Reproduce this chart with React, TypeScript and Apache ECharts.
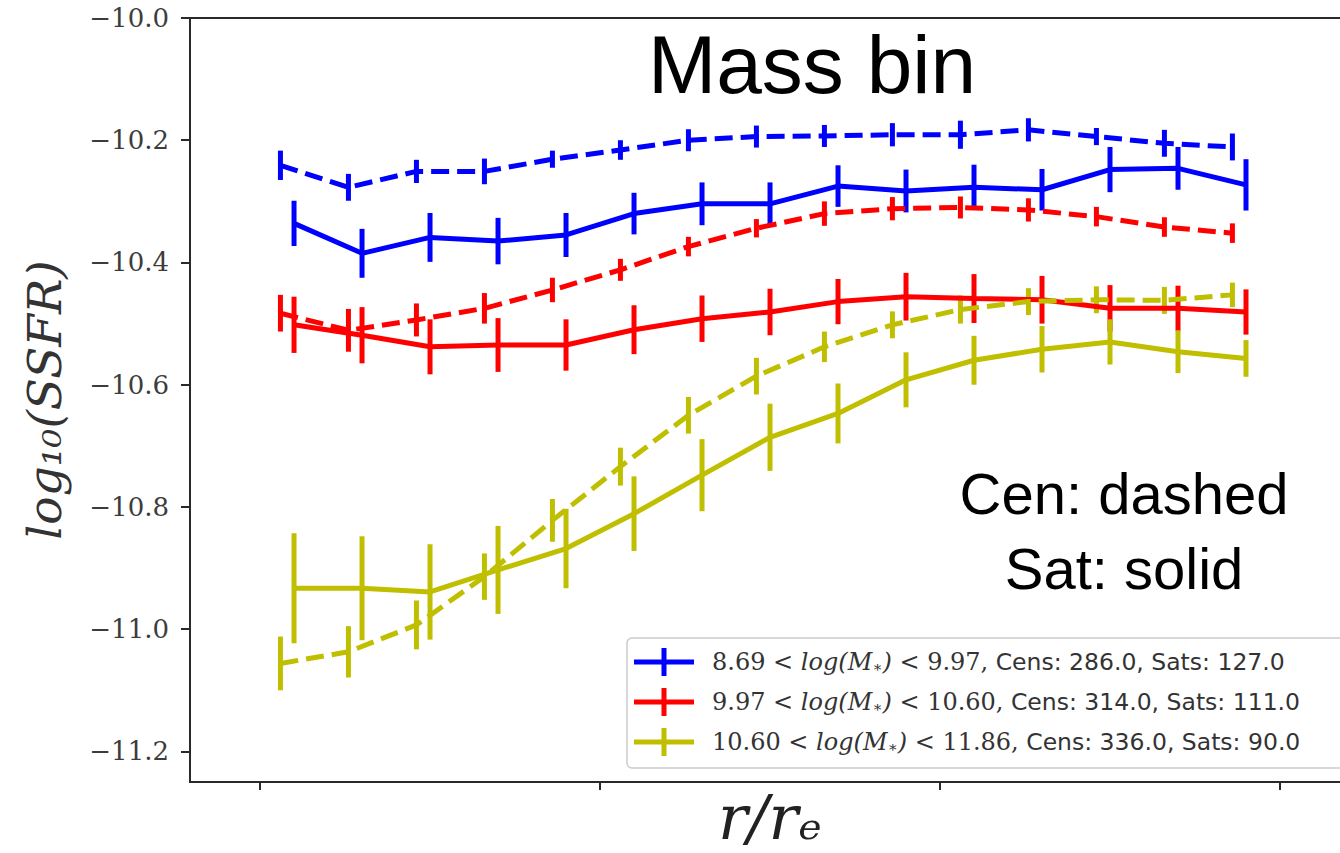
import React, { useEffect, useRef } from "react";
import * as echarts from "echarts";

// radial positions (r / r_e) of the bins
const xSat = [0.1, 0.3, 0.5, 0.7, 0.9, 1.1, 1.3, 1.5, 1.7, 1.9, 2.1, 2.3, 2.5, 2.7, 2.9];
const xCen = [0.06, 0.26, 0.46, 0.66, 0.86, 1.06, 1.26, 1.46, 1.66, 1.86, 2.06, 2.26, 2.46, 2.66, 2.86];

// log10(SSFR) values and errors
const blueCen = [-10.241, -10.277, -10.251, -10.251, -10.231, -10.216, -10.2, -10.194, -10.193, -10.191, -10.191, -10.183, -10.194, -10.205, -10.211];
const blueCenErr = [0.024, 0.022, 0.019, 0.021, 0.014, 0.016, 0.018, 0.018, 0.018, 0.019, 0.023, 0.019, 0.014, 0.022, 0.022];
const blueSat = [-10.336, -10.385, -10.359, -10.365, -10.355, -10.32, -10.304, -10.304, -10.275, -10.283, -10.277, -10.281, -10.248, -10.246, -10.273];
const blueSatErr = [0.037, 0.04, 0.04, 0.038, 0.036, 0.034, 0.035, 0.035, 0.034, 0.035, 0.037, 0.034, 0.037, 0.035, 0.042];

const redCen = [-10.483, -10.511, -10.494, -10.475, -10.445, -10.412, -10.374, -10.344, -10.32, -10.312, -10.31, -10.314, -10.325, -10.342, -10.352];
const redCenErr = [0.03, 0.035, 0.027, 0.025, 0.02, 0.018, 0.016, 0.015, 0.02, 0.019, 0.018, 0.019, 0.016, 0.016, 0.016];
const redSat = [-10.502, -10.519, -10.538, -10.535, -10.535, -10.51, -10.492, -10.481, -10.464, -10.456, -10.459, -10.461, -10.475, -10.475, -10.481];
const redSatErr = [0.046, 0.046, 0.045, 0.044, 0.042, 0.04, 0.038, 0.038, 0.037, 0.039, 0.04, 0.039, 0.038, 0.037, 0.037];

const oliveCen = [-11.056, -11.037, -10.993, -10.914, -10.822, -10.734, -10.65, -10.586, -10.538, -10.502, -10.477, -10.464, -10.461, -10.462, -10.453];
const oliveCenErr = [0.044, 0.042, 0.04, 0.038, 0.035, 0.031, 0.03, 0.03, 0.025, 0.022, 0.023, 0.022, 0.022, 0.022, 0.02];
const oliveSat = [-10.933, -10.933, -10.939, -10.903, -10.868, -10.811, -10.748, -10.686, -10.647, -10.592, -10.56, -10.542, -10.53, -10.546, -10.557];
const oliveSatErr = [0.09, 0.085, 0.078, 0.072, 0.065, 0.061, 0.059, 0.055, 0.049, 0.045, 0.04, 0.038, 0.037, 0.035, 0.03];

const yTicks = [-11.2, -11.0, -10.8, -10.6, -10.4, -10.2, -10.0];
const xTicks = [0, 1, 2, 3];

const massLow = ["8.69", "9.97", "10.60"];
const massHigh = ["9.97", "10.60", "11.86"];
const cens = ["286.0", "314.0", "336.0"];
const sats = ["127.0", "111.0", "90.0"];
const colors = ["#0000ff", "#ff0000", "#bfbf00"];

const legendNames = massLow.map(
  (lo, i) => `${lo} < log(M*) < ${massHigh[i]}, Cens: ${cens[i]}, Sats: ${sats[i]}`
);

const groups = [
  { cen: blueCen, cenErr: blueCenErr, sat: blueSat, satErr: blueSatErr },
  { cen: redCen, cenErr: redCenErr, sat: redSat, satErr: redSatErr },
  { cen: oliveCen, cenErr: oliveCenErr, sat: oliveSat, satErr: oliveSatErr },
];

const LW = 5;

function errSeries(name: string, xs: number[], ys: number[], es: number[], color: string) {
  return {
    name,
    type: "custom",
    data: xs.map((x, i) => [x, ys[i], es[i]]),
    encode: { x: 0, y: 1 },
    z: 3,
    renderItem: (params: any, api: any) => {
      const x = api.value(0);
      const y = api.value(1);
      const e = api.value(2);
      const top = api.coord([x, y + e]);
      const bot = api.coord([x, y - e]);
      return {
        type: "line",
        shape: { x1: top[0], y1: top[1], x2: bot[0], y2: bot[1] },
        style: { stroke: color, lineWidth: LW },
      };
    },
  };
}

export default function App() {
  const ref = useRef<HTMLDivElement>(null);
  useEffect(() => {
    if (!ref.current) return;
    const chart = echarts.init(ref.current, null, { renderer: "svg" });
    const series: any[] = [];
    groups.forEach((g, i) => {
      const c = colors[i];
      series.push({
        name: legendNames[i],
        type: "line",
        data: xSat.map((x, k) => [x, g.sat[k]]),
        showSymbol: false,
        symbol: "none",
        color: c,
        lineStyle: { color: c, width: LW, type: "solid" },
        z: 3,
      });
      series.push({
        name: legendNames[i] + " (Cen)",
        type: "line",
        data: xCen.map((x, k) => [x, g.cen[k]]),
        showSymbol: false,
        symbol: "none",
        color: c,
        lineStyle: { color: c, width: LW, type: [18, 8] },
        z: 3,
      });
      series.push(errSeries(legendNames[i] + " err", xSat, g.sat, g.satErr, c));
      series.push(errSeries(legendNames[i] + " (Cen) err", xCen, g.cen, g.cenErr, c));
    });

    const axisColor = "#2a2a2a";
    const option: any = {
      animation: false,
      backgroundColor: "#ffffff",
      grid: {
        left: 190,
        top: 18,
        right: 18,
        bottom: 71,
        show: true,
        borderColor: axisColor,
        borderWidth: 2,
        backgroundColor: "transparent",
      },
      xAxis: {
        type: "value",
        min: -0.206,
        max: 3.3,
        name: "r/rₑ",
        nameLocation: "middle",
        nameGap: 4,
        nameTextStyle: {
          fontFamily: "DejaVu Serif",
          fontStyle: "italic",
          fontSize: 62,
          color: "#222",
          padding: [0, 32, 0, 0],
          verticalAlign: "top",
        },
        axisLine: { show: true, onZero: false, lineStyle: { color: axisColor, width: 2 } },
        axisTick: { show: true, inside: false, length: 8, customValues: xTicks, lineStyle: { color: axisColor, width: 2 } },
        axisLabel: { show: false },
        splitLine: { show: false },
      },
      yAxis: {
        type: "value",
        min: -11.25,
        max: -10.0,
        name: "log₁₀(SSFR)",
        nameLocation: "middle",
        nameRotate: 90,
        nameGap: 122,
        nameTextStyle: {
          fontFamily: "DejaVu Serif",
          fontStyle: "italic",
          fontSize: 47,
          color: "#333",
        },
        axisLine: { show: true, onZero: false, lineStyle: { color: axisColor, width: 2 } },
        axisTick: { show: true, inside: false, length: 9, customValues: yTicks, lineStyle: { color: axisColor, width: 2 } },
        axisLabel: {
          show: true,
          customValues: yTicks,
          margin: 21,
          fontFamily: "DejaVu Serif",
          fontSize: 26,
          color: "#3c3c3c",
          formatter: (v: number) => (v < 0 ? "−" : "") + Math.abs(v).toFixed(1),
        },
        splitLine: { show: false },
      },
      legend: {
        data: legendNames,
        orient: "vertical",
        left: 627,
        top: 638,
        padding: [10, 120, 12, 7],
        itemGap: 12,
        itemWidth: 60,
        itemHeight: 28,
        icon: "path://M0,11.5 L60,11.5 L60,16.5 L0,16.5 Z M27.5,0 L32.5,0 L32.5,28 L27.5,28 Z",
        backgroundColor: "rgba(255,255,255,0.85)",
        borderColor: "#cccccc",
        borderWidth: 1.5,
        borderRadius: 5,
        selectedMode: false,
        z: 10,
        formatter: (name: string) => {
          const i = legendNames.indexOf(name);
          return `{p|}{m|${massLow[i]} < }{i|log(M}{s|∗}{i|)}{m| < ${massHigh[i]},}{t| Cens: ${cens[i]}, Sats: ${sats[i]}}`;
        },
        textStyle: {
          lineHeight: 28,
          color: "#333",
          rich: {
            p: { width: 13 },
            m: { fontFamily: "DejaVu Serif", fontSize: 24, color: "#333" },
            i: { fontFamily: "DejaVu Serif", fontStyle: "italic", fontSize: 24, color: "#333" },
            s: { fontFamily: "DejaVu Serif", fontSize: 15, color: "#333", padding: [10, 0, 0, 0] },
            t: { fontFamily: "DejaVu Sans", fontSize: 23.5, color: "#333" },
          },
        },
      },
      graphic: [
        {
          type: "text",
          x: 812,
          y: 64,
          style: {
            text: "Mass bin",
            fontFamily: "Liberation Sans",
            fontSize: 82,
            fill: "#000",
            align: "center",
            verticalAlign: "middle",
          },
          z: 20,
        },
        {
          type: "text",
          x: 1124,
          y: 493,
          style: {
            text: "Cen: dashed",
            fontFamily: "Liberation Sans",
            fontSize: 58,
            fill: "#000",
            align: "center",
            verticalAlign: "middle",
          },
          z: 20,
        },
        {
          type: "text",
          x: 1124,
          y: 568,
          style: {
            text: "Sat: solid",
            fontFamily: "Liberation Sans",
            fontSize: 58,
            fill: "#000",
            align: "center",
            verticalAlign: "middle",
          },
          z: 20,
        },
      ],
      series,
    };
    chart.setOption(option);
    return () => chart.dispose();
  }, []);
  return (
    <div
      style={{ position: "absolute", left: 0, top: 0, width: 1340, height: 853, overflow: "hidden", background: "#fff" }}
    >
      <div ref={ref} style={{ width: 1400, height: 853 }} />
    </div>
  );
}
